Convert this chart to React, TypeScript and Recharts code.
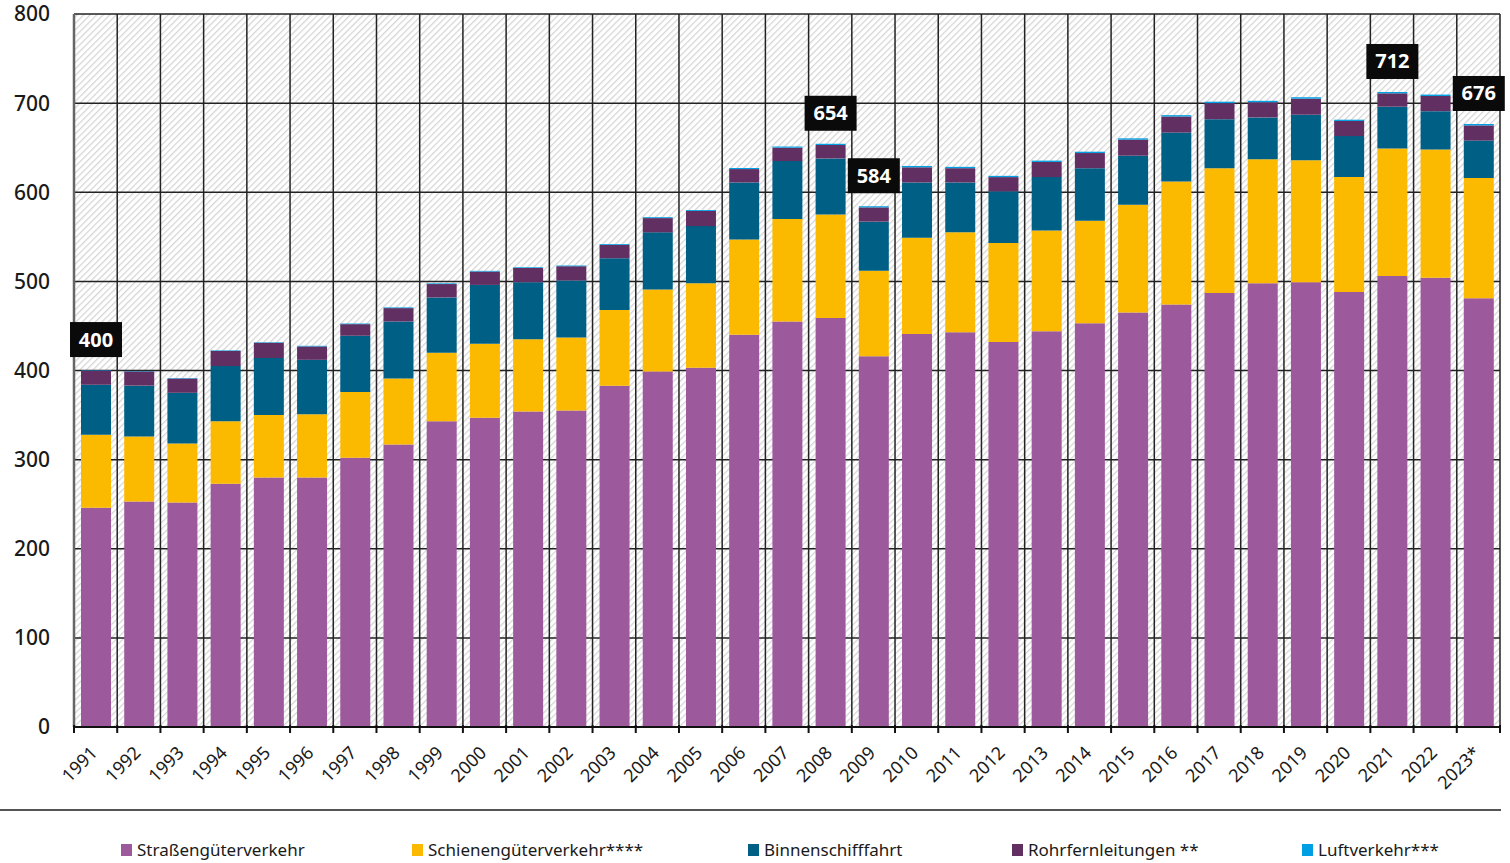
import React from "react";
import {
  BarChart,
  Bar,
  XAxis,
  YAxis,
  CartesianGrid,
  LabelList,
} from "recharts";

// Güterverkehr – Transportleistung in Mrd. tkm
const years = [
  "1991", "1992", "1993", "1994", "1995", "1996", "1997", "1998", "1999", "2000",
  "2001", "2002", "2003", "2004", "2005", "2006", "2007", "2008", "2009", "2010",
  "2011", "2012", "2013", "2014", "2015", "2016", "2017", "2018", "2019", "2020",
  "2021", "2022", "2023*",
];

const strasse = [
  246, 253, 252, 273, 280, 280, 302, 317, 343, 347,
  354, 355, 383, 399, 403, 440, 455, 459, 416, 441,
  443, 432, 444, 453, 465, 474, 487, 498, 499, 488,
  506, 504, 481,
];
const schiene = [
  82, 73, 66, 70, 70, 71, 74, 74, 77, 83,
  81, 82, 85, 92, 95, 107, 115, 116, 96, 108,
  112, 111, 113, 115, 121, 138, 140, 139, 137, 129,
  143, 144, 135,
];
const binnen = [
  56, 57, 57, 62, 64, 61, 63, 64, 62, 66,
  64, 64, 58, 64, 64, 64, 65, 63, 55, 62,
  56, 58, 60, 59, 55, 55, 55, 47, 51, 46,
  47, 43, 42,
];
const rohr = [
  16, 16, 16, 17, 17, 15, 13, 15, 15, 15,
  16, 16, 15, 16, 17, 15, 15, 15, 16, 17,
  16, 16, 17, 17, 18, 18, 18, 17, 18, 17,
  15, 17, 17,
];
const luft = [
  0.5, 0.5, 0.5, 0.6, 0.7, 0.7, 0.7, 0.8, 0.8, 0.8,
  0.8, 0.8, 0.9, 1.0, 1.0, 1.2, 1.3, 1.4, 1.3, 1.5,
  1.5, 1.4, 1.5, 1.5, 1.5, 1.5, 1.6, 1.6, 1.6, 1.4,
  1.5, 1.6, 1.6,
];

const labelYears = ["1991", "2008", "2009", "2021", "2023*"];
const labelValues = [400, 654, 584, 712, 676];

const yTicks = [0, 100, 200, 300, 400, 500, 600, 700, 800];

const series = [
  { key: "strasse", name: "Straßengüterverkehr", color: "#9c5a9c" },
  { key: "schiene", name: "Schienengüterverkehr****", color: "#fbba00" },
  { key: "binnen", name: "Binnenschifffahrt", color: "#005f85" },
  { key: "rohr", name: "Rohrfernleitungen **", color: "#622f63" },
  { key: "luft", name: "Luftverkehr***", color: "#009fe3" },
];

const data = years.map((year, i) => {
  const li = labelYears.indexOf(year);
  return {
    year,
    strasse: strasse[i],
    schiene: schiene[i],
    binnen: binnen[i],
    rohr: rohr[i],
    luft: luft[i],
    label: li >= 0 ? labelValues[li] : null,
  };
});

const FONT = "'Noto Sans', 'Open Sans', sans-serif";

const YearTick = (props: any) => {
  const { x, y, payload, width, visibleTicksCount, index } = props;
  const band = width / visibleTicksCount;
  const left = x - band / 2;
  const ax = x + 3;
  const ay = y + 25;
  return (
    <g>
      <line x1={left} x2={left} y1={y - 4} y2={y + 4} stroke="#111" strokeWidth={2} />
      {index === visibleTicksCount - 1 && (
        <line x1={x + band / 2} x2={x + band / 2} y1={y - 4} y2={y + 4} stroke="#111" strokeWidth={2} />
      )}
      <text
        x={ax}
        y={ay}
        textAnchor="end"
        transform={`rotate(-45, ${ax}, ${ay})`}
        fontSize={18}
        fontFamily={FONT}
        fill="#1a1a1a"
      >
        {payload.value}
      </text>
    </g>
  );
};

const TotalLabel = (props: any) => {
  const { x, y, width, value } = props;
  if (value === null || value === undefined) return null;
  const cx = x + width / 2;
  const w = 52;
  const h = 35;
  const bottom = y - 13;
  return (
    <g>
      <rect x={cx - w / 2} y={bottom - h} width={w} height={h} fill="#0a0a0a" />
      <text
        x={cx}
        y={bottom - h / 2 + 7}
        textAnchor="middle"
        fontSize={20}
        fontWeight={700}
        fontFamily={FONT}
        fill="#ffffff"
      >
        {value}
      </text>
    </g>
  );
};

export default function App() {
  return (
    <div
      style={{
        position: "absolute",
        left: 0,
        top: 0,
        width: 1510,
        height: 863,
        background: "#fff",
        fontFamily: FONT,
      }}
    >
      <BarChart
        width={1510}
        height={863}
        data={data}
        margin={{ top: 14, right: 10, left: 0, bottom: 56 }}
        barSize={30}
      >
        <defs>
          <pattern
            id="hatch"
            patternUnits="userSpaceOnUse"
            width={4.6}
            height={4.6}
            patternTransform="rotate(45)"
          >
            <rect width={4.6} height={4.6} fill="#ffffff" />
            <line x1={0} y1={0} x2={0} y2={4.6} stroke="#d6d6d6" strokeWidth={2.6} />
          </pattern>
        </defs>
        <CartesianGrid
          fill="url(#hatch)"
          fillOpacity={1}
          stroke="#222"
          strokeWidth={1.5}
          verticalCoordinatesGenerator={({ offset }: any) =>
            years.map((_, i) => offset.left + (i * offset.width) / years.length).concat(offset.left + offset.width)
          }
        />
        <XAxis
          dataKey="year"
          interval={0}
          height={80}
          tickLine={false}
          tickSize={0}
          axisLine={{ stroke: "#111", strokeWidth: 2 }}
          tick={<YearTick />}
        />
        <YAxis
          width={74}
          domain={[0, 800]}
          ticks={yTicks}
          interval={0}
          tickLine={false}
          tickSize={0}
          tickMargin={24}
          axisLine={{ stroke: "#666", strokeWidth: 2.5 }}
          tick={{ fontSize: 21, fill: "#1a1a1a", fontFamily: FONT, fontWeight: 500 }}
        />
        {series.map((s, i) => (
          <Bar
            key={s.key}
            dataKey={s.key}
            name={s.name}
            stackId="a"
            fill={s.color}
            isAnimationActive={false}
          >
            {i === series.length - 1 && (
              <LabelList dataKey="label" content={<TotalLabel />} />
            )}
          </Bar>
        ))}
      </BarChart>

      <div
        style={{
          position: "absolute",
          left: 0,
          top: 809,
          width: 1501,
          height: 2,
          background: "#555",
        }}
      />
      {series.map((s, i) => {
        const lefts = [121, 412, 748, 1012, 1302];
        return (
          <div
            key={s.key}
            style={{
              position: "absolute",
              left: lefts[i],
              top: 838,
              display: "flex",
              alignItems: "center",
              fontSize: 17,
              color: "#1a1a1a",
              whiteSpace: "nowrap",
            }}
          >
            <span
              style={{
                display: "inline-block",
                width: 11,
                height: 12,
                background: s.color,
                marginRight: 5,
              }}
            />
            {s.name}
          </div>
        );
      })}
    </div>
  );
}
